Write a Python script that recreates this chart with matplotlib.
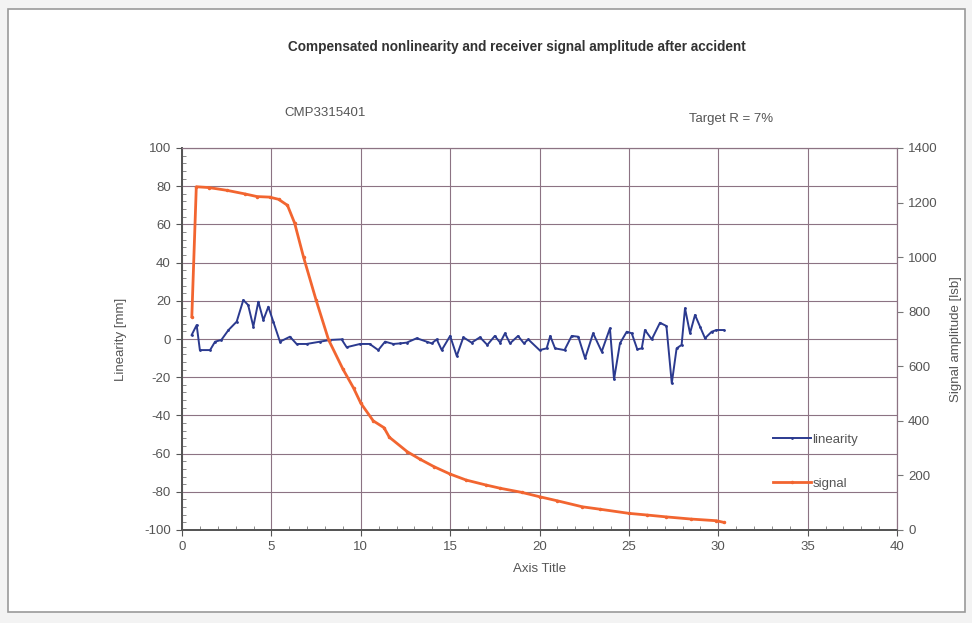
import matplotlib
matplotlib.use("Agg")
import matplotlib.pyplot as plt
from matplotlib.patches import Rectangle
from matplotlib.ticker import MultipleLocator

plt.rcParams['font.family'] = ['Liberation Sans', 'DejaVu Sans']
plt.rcParams['axes.unicode_minus'] = False

# ---- data ----
lin_x = [0.54, 0.82, 1.0, 1.57, 1.85, 2.2, 2.6, 3.06, 3.43, 3.7, 3.99, 4.27, 4.55, 4.83,
         5.11, 5.48, 6.04, 6.41, 6.97, 7.72, 8.28, 8.93, 9.21, 9.96, 10.5, 10.98, 11.36,
         11.82, 12.2, 12.57, 13.13, 13.69, 13.97, 14.25, 14.53, 15.0, 15.37, 15.74, 16.2,
         16.67, 17.08, 17.5, 17.8, 18.07, 18.35, 18.8, 19.13, 19.37, 20.0, 20.4, 20.6,
         20.87, 21.4, 21.8, 22.17, 22.55, 23.0, 23.48, 23.94, 24.17, 24.5, 24.88, 25.16,
         25.47, 25.72, 25.9, 26.28, 26.74, 27.1, 27.4, 27.67, 27.95, 28.14, 28.42, 28.7,
         28.98, 29.26, 29.63, 29.9, 30.3]
lin_y = [2.1, 7.3, -5.8, -5.8, -1.4, -0.5, 4.7, 9.1, 20.4, 17.8, 6.5, 19.5, 9.9, 16.9,
         9.0, -1.4, 1.2, -2.6, -2.6, -1.4, -0.5, -0.2, -4.3, -2.6, -2.6, -5.8, -1.4,
         -2.6, -2.3, -1.9, 0.4, -1.4, -2.3, -0.2, -5.8, 1.6, -8.9, 0.9, -1.9,
         0.9, -3.1, 1.6, -1.9, 3.0, -2.3, 1.6, -2.3, -0.2, -5.8, -4.9, 1.6,
         -4.9, -5.8, 1.6, 1.2, -10.1, 3.0, -6.6, 5.6, -21.1, -2.3, 3.8, 3.0,
         -5.4, -4.9, 4.7, -0.2, 8.5, 6.8, -23.2, -4.9, -3.1, 16.1, 3.0, 12.6,
         6.5, 0.4, 3.8, 4.7, 4.7]

sig_x = [0.55, 0.8, 1.5, 2.5, 3.5, 4.2, 4.9, 5.4, 5.9, 6.3, 6.8, 7.5, 8.2, 9.0, 9.6,
         10.0, 10.7, 11.3, 11.6, 12.6, 13.3, 14.1, 15.0, 15.9, 17.0, 17.8, 19.0, 20.0,
         21.0, 22.4, 23.4, 25.0, 26.0, 27.1, 28.5, 29.9, 30.3]
sig_y = [782, 1258, 1255, 1245, 1232, 1222, 1220, 1212, 1190, 1125, 1000, 843, 697, 590,
         520, 465, 400, 375, 340, 287, 260, 232, 205, 183, 165, 153, 138, 122,
         107, 85, 76, 61, 55, 48, 40, 34, 28]

x_ticks = [0, 5, 10, 15, 20, 25, 30, 35, 40]
left_ticks = [100, 80, 60, 40, 20, 0, -20, -40, -60, -80, -100]
right_ticks = [0, 200, 400, 600, 800, 1000, 1200, 1400]

title = "Compensated nonlinearity and receiver signal amplitude after accident"

BLUE = "#2b3a8f"
ORANGE = "#f26530"
GRID = "#8c7383"
TXT = "#555555"
FS = 9.5

fig = plt.figure(figsize=(9.72, 6.23), dpi=100)
fig.patch.set_facecolor("#f3f3f3")
fig.patches.append(Rectangle((8 / 972, 11 / 623), 957 / 972, 603 / 623,
                             transform=fig.transFigure, facecolor="white",
                             edgecolor="#9a9a9a", linewidth=1.2, zorder=-5))

ax = fig.add_axes([182 / 972, 1 - 530 / 623, 715 / 972, 382 / 623])
ax.set_facecolor("none")
ax2 = ax.twinx()
ax.set_zorder(1)
ax2.set_zorder(2)

ax.plot(lin_x, lin_y, color=BLUE, lw=1.4, marker='.', ms=2, label="linearity")
ax2.plot(sig_x, sig_y, color=ORANGE, lw=2.0, marker='.', ms=3, label="signal")

ax.set_xlim(0, 40)
ax.set_ylim(-100, 100)
ax2.set_ylim(0, 1400)
ax.set_xticks(x_ticks)
ax.set_yticks(left_ticks)
ax2.set_yticks(right_ticks)
ax.xaxis.set_minor_locator(MultipleLocator(1))
ax.yaxis.set_minor_locator(MultipleLocator(4))

ax.grid(True, which='major', color=GRID, lw=0.8)
ax.set_axisbelow(True)

for a in (ax, ax2):
    for s in a.spines.values():
        s.set_color(GRID)
        s.set_linewidth(0.8)
    a.spines['left'].set_color("#555555")
    a.spines['bottom'].set_color("#555555")
    a.spines['left'].set_linewidth(1.3)
    a.spines['bottom'].set_linewidth(1.3)

ax.tick_params(axis='both', which='major', labelsize=FS, labelcolor=TXT, color="#555555",
               direction='out', length=4, pad=4)
ax.tick_params(axis='x', which='minor', direction='in', length=3, color="#777777")
ax.tick_params(axis='y', which='minor', direction='in', length=3, color="#777777")
ax2.tick_params(axis='y', labelsize=FS, labelcolor=TXT, color="#777777", length=4, pad=4)

ax.set_xlabel("Axis Title", fontsize=FS, color=TXT)
ax.xaxis.set_label_coords(0.5, -0.087)
ax.set_ylabel("Linearity [mm]", fontsize=FS, color=TXT, labelpad=12)
ax2.set_ylabel("Signal amplitude [lsb]", fontsize=FS, color=TXT, labelpad=9)

fig.text(517 / 972, 1 - 47 / 623, title, ha='center', va='center', fontsize=9.8,
         fontweight='bold', color="#333333")
fig.text(325 / 972, 1 - 113 / 623, "CMP3315401", ha='center', va='center', fontsize=9.5,
         color=TXT)
fig.text(731 / 972, 1 - 119 / 623, "Target R = 7%", ha='center', va='center', fontsize=9.5,
         color=TXT)

h1, l1 = ax.get_legend_handles_labels()
h2, l2 = ax2.get_legend_handles_labels()
leg = ax2.legend(h1 + h2, l1 + l2, loc='upper left', bbox_to_anchor=(0.81, 0.283),
                 frameon=False, fontsize=FS, labelspacing=2.4, handlelength=2.9,
                 handletextpad=0.1)
for t in leg.get_texts():
    t.set_color(TXT)

fig.savefig("out.png", dpi=100, facecolor=fig.get_facecolor())
